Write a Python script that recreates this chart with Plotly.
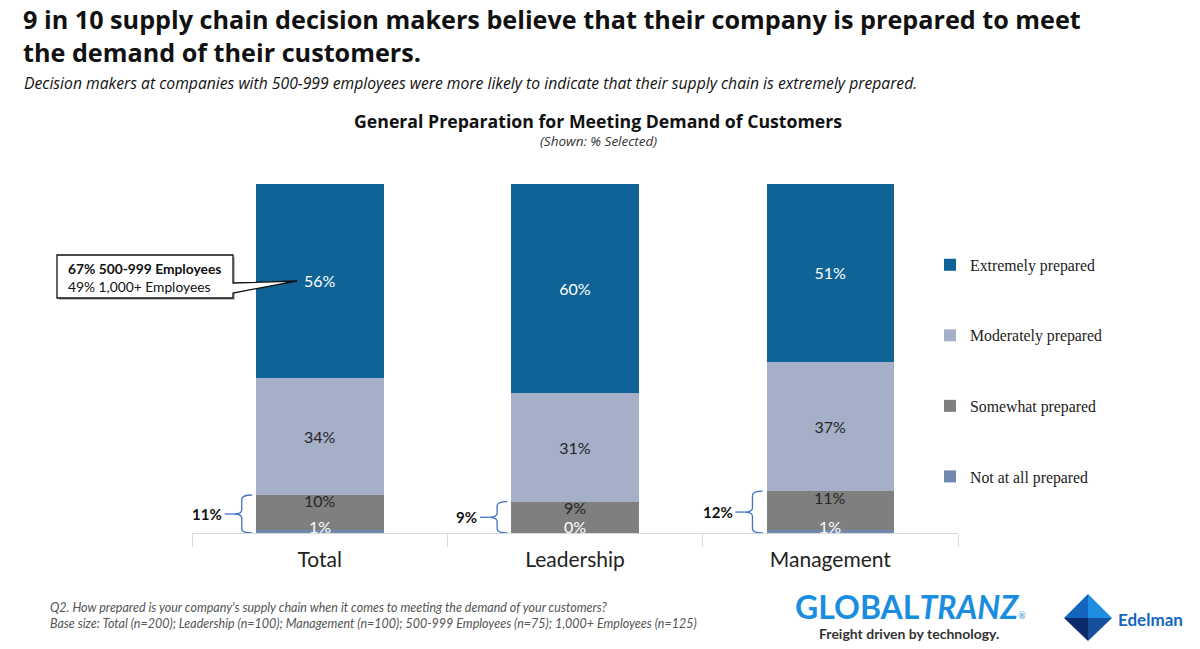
import plotly.graph_objects as go

# ---------------- data ----------------
categories = ["Total", "Leadership", "Management"]
series_names = ["Not at all prepared", "Somewhat prepared", "Moderately prepared", "Extremely prepared"]
legend_ranks = [4, 3, 2, 1]
not_at_all = [1, 0, 1]
somewhat = [10, 9, 11]
moderately = [34, 31, 37]
extremely = [56, 60, 51]
bracket_labels = ["11%", "9%", "12%"]
callout_lines = ["67% 500-999 Employees", "49% 1,000+ Employees"]

W, H = 1200, 649
def px(x):
    return x / W
def py(y):
    return 1 - y / H

colors = {
    "Extremely prepared": "#0f6396",
    "Moderately prepared": "#a5afc7",
    "Somewhat prepared": "#7f7f7f",
    "Not at all prepared": "#7189b1",
}
series_vals = [not_at_all, somewhat, moderately, extremely]
xs = list(range(len(categories)))
totals = [sum(v[i] for v in series_vals) for i in xs]
def norm(v, i):
    return v * 100.0 / totals[i]

LABEL_FONT = "Lato"
fig = go.Figure()
for k, (name, vals) in enumerate(zip(series_names, series_vals)):
    show_text = name in ("Moderately prepared", "Extremely prepared")
    fig.add_trace(go.Bar(
        x=xs, y=vals, name=name, width=0.5,
        marker=dict(color=colors[name], line=dict(width=0)),
        text=[f"{v}%" for v in vals] if show_text else None,
        textposition="inside" if show_text else "none",
        insidetextanchor="middle",
        textfont=dict(family=LABEL_FONT, size=16,
                      color="white" if name == "Extremely prepared" else "#262626"),
        legendgroup=name, legendrank=legend_ranks[k],
        hoverinfo="skip",
    ))

annotations = []
shapes = []
# small-segment labels
for i in xs:
    top_s = norm(not_at_all[i] + somewhat[i], i)
    annotations.append(dict(x=i, y=top_s, xref="x", yref="y", text=f"{somewhat[i]}%",
                            showarrow=False, yanchor="middle", yshift=-6,
                            font=dict(family=LABEL_FONT, size=16, color="#262626")))
    annotations.append(dict(x=i, y=0, xref="x", yref="y", text=f"{not_at_all[i]}%",
                            showarrow=False, yanchor="bottom", yshift=-5,
                            font=dict(family=LABEL_FONT, size=16, color="white")))

# brackets
for i in xs:
    ytop = norm(not_at_all[i] + somewhat[i], i)
    ybot = 0.0
    ymid = (ytop + ybot) / 2
    xe = i - 0.265
    xb = i - 0.305
    xp = i - 0.335
    r = 1.2
    path = (f"M {xe},{ytop} Q {xb},{ytop} {xb},{ytop - r} "
            f"L {xb},{ymid + r} Q {xb},{ymid} {xp},{ymid} "
            f"Q {xb},{ymid} {xb},{ymid - r} "
            f"L {xb},{ybot + r} Q {xb},{ybot} {xe},{ybot}")
    shapes.append(dict(type="path", xref="x", yref="y", path=path,
                       line=dict(color="#4472c4", width=1.3)))
    shapes.append(dict(type="line", xref="x", yref="y", x0=i - 0.372, x1=xp, y0=ymid, y1=ymid,
                       line=dict(color="#4472c4", width=1.3)))
    annotations.append(dict(x=i - 0.375, y=ymid, xref="x", yref="y", text=f"<b>{bracket_labels[i]}</b>",
                            showarrow=False, xanchor="right", yanchor="middle",
                            font=dict(family=LABEL_FONT, size=15, color="#111")))

# callout box with pointer
def P(x, y):
    return f"{px(x)},{py(y)}"
shadow = (f"M {P(59,257)} L {P(235,257)} L {P(235,300)} L {P(59,300)} Z")
shapes.append(dict(type="path", xref="paper", yref="paper", path=shadow,
                   fillcolor="#bdbdbd", line=dict(width=0), layer="above"))
box = (f"M {P(57,255)} L {P(233,255)} L {P(233,283)} L {P(297,281)} "
       f"L {P(233,293)} L {P(233,298)} L {P(57,298)} Z")
shapes.append(dict(type="path", xref="paper", yref="paper", path=box,
                   fillcolor="white", line=dict(color="#111", width=1.3), layer="above"))
annotations.append(dict(x=px(66), y=py(277), xref="paper", yref="paper",
                        text=f"<b>{callout_lines[0]}</b><br>{callout_lines[1]}",
                        showarrow=False, xanchor="left", yanchor="middle", align="left",
                        font=dict(family=LABEL_FONT, size=13.8, color="#111")))

TF = "Open Sans"
# titles
annotations += [
    dict(x=px(21), y=py(36), xref="paper", yref="paper",
         text="<b>9 in 10 supply chain decision makers believe that their company is prepared to meet<br>the demand of their customers.</b>",
         showarrow=False, xanchor="left", yanchor="middle", align="left",
         font=dict(family=TF, size=25.2, color="#111")),
    dict(x=px(22), y=py(83), xref="paper", yref="paper",
         text="<i>Decision makers at companies with 500-999 employees were more likely to indicate that their supply chain is extremely prepared.</i>",
         showarrow=False, xanchor="left", yanchor="middle", align="left",
         font=dict(family=TF, size=15.7, color="#111")),
    dict(x=px(598), y=py(121), xref="paper", yref="paper",
         text="<b>General Preparation for Meeting Demand of Customers</b>",
         showarrow=False, xanchor="center", yanchor="middle",
         font=dict(family=TF, size=17.7, color="#111")),
    dict(x=px(598), y=py(141), xref="paper", yref="paper",
         text="<i>(Shown: % Selected)</i>",
         showarrow=False, xanchor="center", yanchor="middle",
         font=dict(family=TF, size=13.5, color="#333")),
    dict(x=px(48), y=py(615), xref="paper", yref="paper",
         text="<i>Q2. How prepared is your company's supply chain when it comes to meeting the demand of your customers?<br>"
              "Base size: Total (n=200); Leadership (n=100); Management (n=100); 500-999 Employees (n=75); 1,000+ Employees (n=125)</i>",
         showarrow=False, xanchor="left", yanchor="middle", align="left",
         font=dict(family="Lato", size=12.5, color="#555")),
    dict(x=px(793), y=py(606), xref="paper", yref="paper",
         text="<b>GLOBAL<i>TRANZ</i></b><span style='font-size:9px'>®</span>",
         showarrow=False, xanchor="left", yanchor="middle",
         font=dict(family="Lato", size=32, color="#1b8de0")),
    dict(x=px(909), y=py(633), xref="paper", yref="paper",
         text="<b>Freight driven by technology.</b>",
         showarrow=False, xanchor="center", yanchor="middle",
         font=dict(family="Lato", size=14, color="#333")),
    dict(x=px(1116), y=py(619), xref="paper", yref="paper",
         text="<b>Edelman</b>",
         showarrow=False, xanchor="left", yanchor="middle",
         font=dict(family="Lato", size=17, color="#1565c0")),
]

# Edelman diamond
cx, cy = 1088, 618
tri = [
    ([(cx, 594), (1112, cy), (cx, cy)], "#1e8fe0"),
    ([(1064, cy), (cx, 594), (cx, cy)], "#1565c0"),
    ([(1064, cy), (cx, cy), (cx, 641)], "#0d2b6b"),
    ([(cx, cy), (1112, cy), (cx, 641)], "#174f9f"),
]
for pts, c in tri:
    p = "M " + " L ".join(P(a, b) for a, b in pts) + " Z"
    shapes.append(dict(type="path", xref="paper", yref="paper", path=p,
                       fillcolor=c, line=dict(width=0)))

fig.update_layout(
    width=W, height=H,
    margin=dict(l=0, r=0, t=0, b=0),
    paper_bgcolor="white", plot_bgcolor="white",
    barmode="stack", barnorm="percent",
    bargap=0.5,
    xaxis=dict(domain=[px(192), px(958)], range=[-0.5, 2.5],
               tickmode="array", tickvals=xs, ticktext=categories,
               ticks="", showgrid=False, zeroline=False,
               showline=True, linecolor="#d9d9d9", linewidth=1,
               ticklabelstandoff=8,
               tickfont=dict(family="Lato", size=21, color="#222"),
               minor=dict(tickmode="array", tickvals=[-0.5, 0.5, 1.5, 2.5],
                          ticks="outside", ticklen=13, tickcolor="#d9d9d9", showgrid=False),
               fixedrange=True),
    yaxis=dict(domain=[py(533), py(184)], range=[0, 100], visible=False, fixedrange=True),
    showlegend=True,
    legend=dict(x=px(930), y=py(248), xanchor="left", yanchor="top",
                traceorder="grouped", tracegroupgap=47,
                font=dict(family="Liberation Serif", size=15.8, color="#222"),
                itemwidth=30, bgcolor="rgba(0,0,0,0)"),
    shapes=shapes,
    annotations=annotations,
)

fig.write_html("out.html", config={"displayModeBar": False},
               post_script="document.body.style.margin='0px';document.body.style.padding='0px';")
